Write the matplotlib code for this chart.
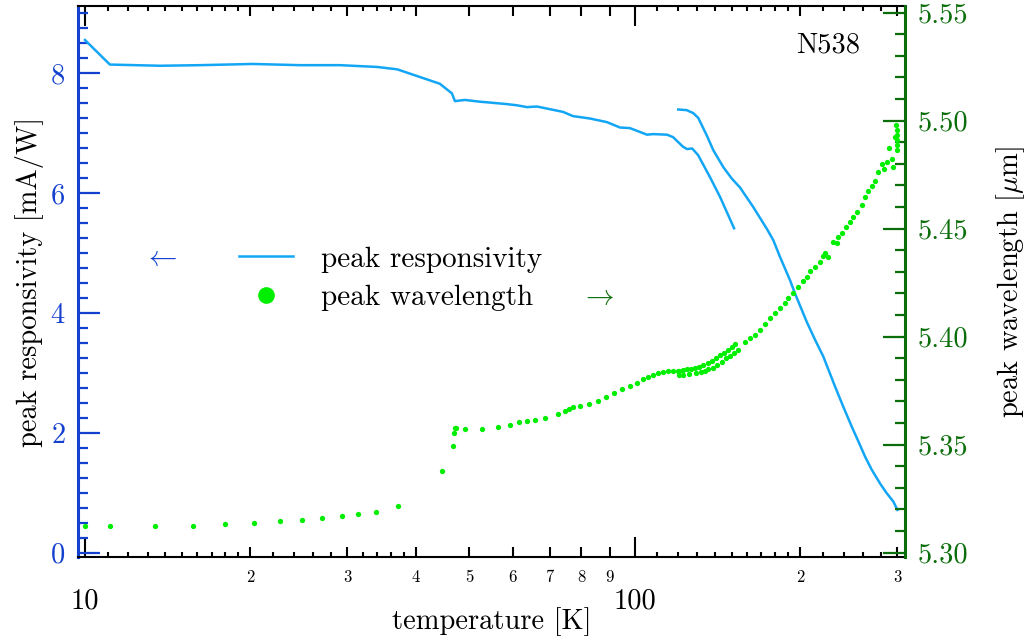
import matplotlib
matplotlib.use('Agg')
import matplotlib.pyplot as plt
from matplotlib.ticker import FixedLocator, NullLocator, FixedFormatter, NullFormatter
from matplotlib.lines import Line2D

plt.rcParams['font.family'] = ['cmr10', 'DejaVu Serif']
plt.rcParams['mathtext.fontset'] = 'cm'
plt.rcParams['axes.formatter.use_mathtext'] = True
plt.rcParams['axes.unicode_minus'] = False

# ---------------- data ----------------
resp1_T = [10.0, 11.1, 13.7, 16.2, 20.2, 24.6, 29.1, 34.0, 37.0, 44.2,
           46.5, 47.1, 49.1, 52.3, 53.9, 58.6, 61.1, 63.7, 66.4, 74.1,
           77.2, 82.9, 89.0, 94.0, 98.0, 105.3, 108.0, 114.5, 117.4, 122.4,
           124.5, 127.2, 130.4, 137.1, 143.0, 151.6]
resp1 = [8.55, 8.14, 8.12, 8.13, 8.15, 8.13, 8.13, 8.10, 8.06, 7.82,
         7.66, 7.53, 7.55, 7.52, 7.51, 7.48, 7.46, 7.43, 7.44, 7.35,
         7.28, 7.24, 7.18, 7.09, 7.08, 6.97, 6.98, 6.97, 6.93, 6.77,
         6.73, 6.74, 6.63, 6.26, 5.93, 5.41]

resp2_T = [120.0, 124.3, 127.8, 130.5, 135.2, 139.0, 144.9, 150.1, 155.4, 164.1,
           173.9, 178.7, 183.8, 191.7, 195.7, 205.5, 212.8, 220.3, 231.4, 239.6,
           248.2, 257.0, 262.4, 269.9, 279.5, 287.3, 295.4, 300.5]
resp2 = [7.39, 7.38, 7.33, 7.25, 6.96, 6.71, 6.43, 6.24, 6.09, 5.77,
         5.40, 5.21, 4.93, 4.54, 4.32, 3.85, 3.55, 3.27, 2.77, 2.43,
         2.10, 1.79, 1.60, 1.38, 1.15, 0.99, 0.85, 0.71]

wl_T = [10.0, 11.1, 13.4, 15.7, 18.0, 20.3, 22.6, 24.8, 27.0, 29.4,
        31.4, 33.8, 37.1, 44.6, 46.7, 46.9, 47.1, 47.4, 49.2, 52.7,
        56.3, 59.3, 61.5, 63.7, 65.9, 68.6, 72.4, 74.6, 75.9, 77.3,
        79.4, 82.5, 85.9, 88.7, 91.7, 94.8, 98.1, 101.0, 103.4, 105.9,
        108.1, 110.4, 112.7, 115.1, 117.6, 119.7,
        120.5, 122.6, 125.7, 129.3, 132.0, 134.3, 136.1, 138.7, 141.4, 144.0,
        146.6, 149.1, 151.8, 154.4,
        120.5, 122.3, 124.3, 126.5, 128.7, 131.1, 133.3, 136.0, 138.3, 140.6,
        143.0, 145.4, 147.8, 150.1, 152.2,
        158.7, 162.1, 165.5, 169.0, 172.6, 176.3, 180.0, 183.8, 187.7, 190.3,
        194.3, 198.5, 202.7, 205.6, 208.4, 212.8, 217.3, 220.3, 221.9, 225.0,
        229.8, 233.1, 234.7, 238.0, 242.4, 246.5, 249.9, 253.5, 258.8, 262.4,
        266.1, 269.9, 273.6, 277.5, 281.4, 284.5, 287.3, 290.5, 293.4, 295.4,
        297.5, 299.2, 299.6, 300.0, 299.8, 299.4, 300.4]
wl = [5.3123, 5.3123, 5.3123, 5.3125, 5.3132, 5.3137, 5.3146, 5.3150, 5.3160, 5.3169,
      5.3178, 5.3188, 5.3217, 5.3379, 5.3494, 5.3555, 5.3578, 5.3576, 5.3572, 5.3573,
      5.3582, 5.3592, 5.3603, 5.3607, 5.3615, 5.3624, 5.3640, 5.3655, 5.3666, 5.3672,
      5.3678, 5.3688, 5.3701, 5.3720, 5.3738, 5.3755, 5.3771, 5.3787, 5.3802, 5.3811,
      5.3823, 5.3831, 5.3836, 5.3839, 5.3839, 5.3842,
      5.3823, 5.3823, 5.3828, 5.3832, 5.3837, 5.3842, 5.3848, 5.3854, 5.3868, 5.3883,
      5.3899, 5.3910, 5.3922, 5.3938,
      5.3842, 5.3845, 5.3848, 5.3851, 5.3856, 5.3860, 5.3868, 5.3879, 5.3887, 5.3899,
      5.3913, 5.3925, 5.3938, 5.3953, 5.3964,
      5.3973, 5.3992, 5.4007, 5.4030, 5.4058, 5.4084, 5.4107, 5.4131, 5.4154, 5.4177,
      5.4200, 5.4231, 5.4257, 5.4277, 5.4303, 5.4323, 5.4346, 5.4373, 5.4385, 5.4369,
      5.4439, 5.4434, 5.4462, 5.4478, 5.4508, 5.4531, 5.4552, 5.4578, 5.4609, 5.4647,
      5.4674, 5.4697, 5.4720, 5.4763, 5.4799, 5.4774, 5.4808, 5.4874, 5.4820, 5.4786,
      5.4925, 5.4979, 5.4956, 5.4933, 5.4910, 5.4887, 5.4863]

x_big_ticks = [10, 100]
x_big_labels = ['10', '100']
x_mid_ticks = [20, 30, 40, 50, 60, 70, 80, 90, 200, 300]
x_mid_labels = ['2', '3', '4', '5', '6', '7', '8', '9', '2', '3']
x_small_ticks = [11, 12, 13, 14, 15, 16, 17, 18, 19, 22, 24, 26, 28, 32, 34, 36, 38,
                 110, 120, 130, 140, 150, 160, 170, 180, 190, 220, 240, 260, 280]
y1_major = [0, 2, 4, 6, 8]
y1_minor = [i * 0.25 for i in range(0, 37)]
y2_major = [5.30, 5.35, 5.40, 5.45, 5.50, 5.55]
y2_labels = ['5.30', '5.35', '5.40', '5.45', '5.50', '5.55']
y2_minor = [round(5.30 + 0.01 * i, 2) for i in range(0, 26)]

LINE_BLUE = '#13a6f5'
DOT_GREEN = '#00ee00'
AX_BLUE = '#1440d0'
AX_GREEN = '#0b6e0b'
FS = 20.5

fig = plt.figure(figsize=(10.27, 6.41), dpi=100)
ax1 = fig.add_axes([0.0759, 0.1303, 0.8053, 0.8596])
ax1.set_xscale('log')
ax2 = ax1.twinx()
ax2.patch.set_visible(False)

ax1.plot(resp1_T, resp1, color=LINE_BLUE, lw=1.8)
ax1.plot(resp2_T, resp2, color=LINE_BLUE, lw=1.8)
ax2.plot(wl_T, wl, 'o', ls='none', color=DOT_GREEN, ms=3.8, mec='none')

ax1.set_xlim(9.711, 310.2)
ax1.set_ylim(-0.083, 9.109)
ax2.set_ylim(5.2977, 5.5528)

# spines
for s in ['top', 'bottom']:
    ax1.spines[s].set_linewidth(1.5)
    ax1.spines[s].set_color('black')
    ax2.spines[s].set_visible(False)
ax1.spines['right'].set_visible(False)
ax1.spines['left'].set_color(AX_BLUE)
ax1.spines['left'].set_linewidth(2.2)
ax2.spines['left'].set_visible(False)
ax2.spines['right'].set_color(AX_GREEN)
ax2.spines['right'].set_linewidth(2.2)

# x ticks
ax1.xaxis.set_major_locator(FixedLocator(x_mid_ticks))
ax1.xaxis.set_major_formatter(FixedFormatter(x_mid_labels))
ax1.xaxis.set_minor_locator(FixedLocator(x_small_ticks))
ax1.xaxis.set_minor_formatter(NullFormatter())
ax1.tick_params(axis='x', which='major', direction='in', length=7.5, width=1.5,
                top=True, bottom=True, labelsize=12, pad=9, color='black')
ax1.tick_params(axis='x', which='minor', direction='in', length=3.8, width=1.5,
                top=True, bottom=True)

for loc in ['bottom', 'top']:
    sec = ax1.secondary_xaxis(loc)
    sec.xaxis.set_major_locator(FixedLocator(x_big_ticks))
    sec.xaxis.set_minor_locator(NullLocator())
    if loc == 'bottom':
        sec.xaxis.set_major_formatter(FixedFormatter(x_big_labels))
    else:
        sec.xaxis.set_major_formatter(NullFormatter())
    sec.tick_params(axis='x', which='major', direction='in', length=14.5, width=1.5,
                    labelsize=FS, pad=22, color='black')
    sec.spines[loc].set_visible(False)

# y ticks
ax1.yaxis.set_major_locator(FixedLocator(y1_major))
ax1.yaxis.set_minor_locator(FixedLocator(y1_minor))
ax1.tick_params(axis='y', which='major', direction='in', length=15.5, width=1.6,
                colors=AX_BLUE, labelsize=FS, pad=9, left=True, right=False)
ax1.tick_params(axis='y', which='minor', direction='in', length=7.5, width=1.6,
                colors=AX_BLUE, left=True, right=False)

ax2.yaxis.set_major_locator(FixedLocator(y2_major))
ax2.yaxis.set_major_formatter(FixedFormatter(y2_labels))
ax2.yaxis.set_minor_locator(FixedLocator(y2_minor))
ax2.tick_params(axis='y', which='major', direction='in', length=15.5, width=1.6,
                colors=AX_GREEN, labelsize=FS, pad=9, left=False, right=True)
ax2.tick_params(axis='y', which='minor', direction='in', length=7.5, width=1.6,
                colors=AX_GREEN, left=False, right=True)

# labels
ax1.set_xlabel('temperature [K]', fontsize=FS, va='center')
ax1.xaxis.set_label_coords(0.5, -0.117)
ax1.set_ylabel('peak responsivity [mA/W]', fontsize=FS, va='center', ha='center')
ax1.yaxis.set_label_coords(-0.058, 0.5)
ax2.set_ylabel(r'peak wavelength [$\mu$m]', fontsize=FS, va='center', ha='center')
ax2.yaxis.set_label_coords(1.1276, 0.5)

ax1.text(0.9456, 0.929, 'N538', transform=ax1.transAxes, ha='right', va='center',
         fontsize=FS)

handles = [Line2D([], [], color=LINE_BLUE, lw=1.8),
           Line2D([], [], marker='o', ls='none', color=DOT_GREEN, ms=12, mec='none')]
ax1.legend(handles, ['peak responsivity', 'peak wavelength'], loc='center left',
           bbox_to_anchor=(0.195, 0.506), frameon=False, fontsize=21,
           handlelength=1.85, handletextpad=0.95, labelspacing=0.42,
           borderpad=0, borderaxespad=0, numpoints=1)
ax1.text(0.1004, 0.5446, r'$\leftarrow$', transform=ax1.transAxes, color=AX_BLUE,
         fontsize=FS, ha='center', va='center')
ax1.text(0.6288, 0.4736, r'$\rightarrow$', transform=ax1.transAxes, color=AX_GREEN,
         fontsize=FS, ha='center', va='center')

fig.savefig('out.png', dpi=100)
